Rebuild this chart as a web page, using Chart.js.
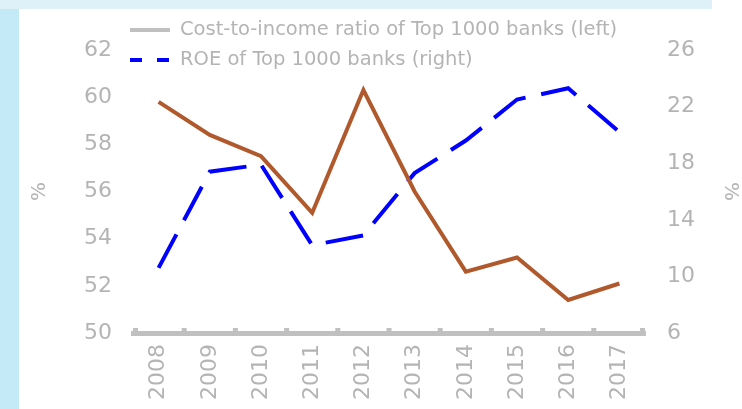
<!DOCTYPE html>
<html>
<head>
<meta charset="utf-8">
<script src="https://cdn.jsdelivr.net/npm/chart.js@4/dist/chart.umd.min.js"></script>
<style>
  html, body { margin: 0; padding: 0; background: #fff; }
  #wrap { position: relative; width: 742px; height: 409px; overflow: hidden; }
  #leftStrip { position: absolute; left: 0; top: 0; width: 19px; height: 409px; background: #c4e9f7; }
  #topStrip { position: absolute; left: 0; top: 0; width: 712px; height: 9px; background: #def1f9; }
  #chart { position: absolute; left: 0; top: 0; }
</style>
</head>
<body>
<div id="wrap">
  <div id="leftStrip"></div>
  <div id="topStrip"></div>
  <canvas id="chart" width="742" height="409"></canvas>
</div>
<script>
var years = ['2008', '2009', '2010', '2011', '2012', '2013', '2014', '2015', '2016', '2017'];
var costIncome = [59.8, 58.4, 57.5, 55.1, 60.3, 56.0, 52.6, 53.2, 51.4, 52.1];
var roe = [10.6, 17.4, 17.9, 12.2, 12.9, 17.3, 19.6, 22.5, 23.3, 20.2];
var leftTicks = [50, 52, 54, 56, 58, 60, 62];
var rightTicks = [6, 10, 14, 18, 22, 26];
var seriesNames = ['Cost-to-income ratio of Top 1000 banks (left)', 'ROE of Top 1000 banks (right)'];

var textGray = '#b4b4b4';
var axisGray = '#c0c0c0';
var fontFamily = 'DejaVu Sans';

// small upward tick marks on the category axis, between labels
var upTicks = {
	id: 'upTicks',
	afterDraw: function(chart){
		var ctx = chart.ctx;
		var area = chart.chartArea;
		var n = chart.scales.x.ticks.length;
		var step = (area.right - area.left) / n;
		ctx.save();
		ctx.fillStyle = axisGray;
		for (var i = 0; i <= n; i++){
			var x = area.left + i * step;
			if (i == 0) x += 2.5;
			if (i == n) x -= 2.5;
			ctx.fillRect(x - 2.5, area.bottom - 5, 5, 5);
		}
		ctx.restore();
	}
};

// legend sits over the top of the plot, so it is drawn by hand
var overLegend = {
	id: 'overLegend',
	afterDraw: function(chart){
		var ctx = chart.ctx;
		var rows = [30, 60];
		ctx.save();
		ctx.font = '19.5px "' + fontFamily + '"';
		ctx.textBaseline = 'middle';
		ctx.fillStyle = textGray;
		chart.data.datasets.forEach(function(ds, i){
			var y = rows[i];
			ctx.beginPath();
			ctx.lineWidth = 4;
			ctx.strokeStyle = i == 0 ? axisGray : ds.borderColor;
			ctx.setLineDash(i == 0 ? [] : [12, 15]);
			ctx.moveTo(130, y);
			ctx.lineTo(170, y);
			ctx.stroke();
			ctx.setLineDash([]);
			ctx.fillText(ds.label, 180, y);
		});
		ctx.restore();
	}
};

var ctx = document.getElementById('chart');
var chart = new Chart(ctx, {
	type: 'line',
	data: {
		labels: years,
		datasets: [{
			label: seriesNames[0],
			data: costIncome,
			yAxisID: 'y',
			borderColor: '#b0592d',
			borderWidth: 4,
			pointRadius: 0,
			tension: 0,
			fill: false
		}, {
			label: seriesNames[1],
			data: roe,
			yAxisID: 'y1',
			borderColor: '#0000ff',
			borderWidth: 4,
			borderDash: [38, 16],
			pointRadius: 0,
			tension: 0,
			fill: false
		}]
	},
	options: {
		responsive: false,
		animation: false,
		layout: { padding: { top: 50, left: 0, right: 0, bottom: 0 } },
		plugins: {
			legend: { display: false },
			tooltip: { enabled: false }
		},
		scales: {
			x: {
				offset: true,
				grid: { display: false, drawTicks: false },
				border: { display: true, color: axisGray, width: 5 },
				ticks: {
					color: textGray,
					font: { family: fontFamily, size: 22 },
					minRotation: 90,
					maxRotation: 90,
					padding: 11
				},
				afterFit: function(scale){ scale.height = 409 - 333; }
			},
			y: {
				position: 'left',
				min: leftTicks[0],
				max: leftTicks[leftTicks.length - 1],
				grid: { display: false, drawTicks: false },
				border: { display: false },
				ticks: {
					stepSize: leftTicks[1] - leftTicks[0],
					color: textGray,
					font: { family: fontFamily, size: 22 },
					padding: 21
				},
				title: {
					display: true,
					text: '%',
					color: textGray,
					font: { family: fontFamily, size: 20 },
					padding: { top: 28, bottom: 0 }
				},
				afterFit: function(scale){ scale.width = 133; }
			},
			y1: {
				position: 'right',
				min: rightTicks[0],
				max: rightTicks[rightTicks.length - 1],
				grid: { display: false, drawTicks: false },
				border: { display: false },
				ticks: {
					stepSize: rightTicks[1] - rightTicks[0],
					color: textGray,
					font: { family: fontFamily, size: 22 },
					padding: 22
				},
				title: {
					display: true,
					text: '%',
					color: textGray,
					font: { family: fontFamily, size: 20 },
					padding: { top: 0, bottom: 0 }
				},
				afterFit: function(scale){ scale.width = 742 - 645; }
			}
		}
	},
	plugins: [upTicks, overLegend]
});
</script>
</body>
</html>
